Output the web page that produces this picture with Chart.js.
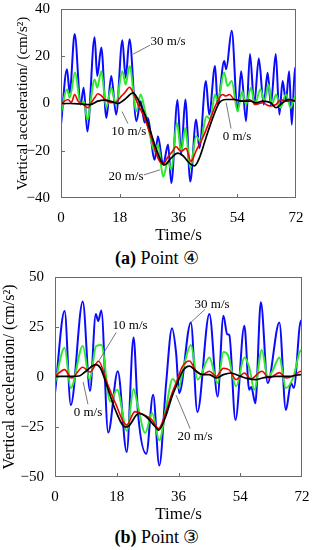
<!DOCTYPE html>
<html><head><meta charset="utf-8">
<script src="https://cdn.jsdelivr.net/npm/chart.js@4"></script>
<style>
html,body{margin:0;padding:0;background:#fff;}
body{width:314px;height:550px;position:relative;overflow:hidden;font-family:"Liberation Serif","Times New Roman",serif;}
.wrap{position:absolute;left:0;width:314px;}
.cap{position:absolute;left:0;width:314px;text-align:center;font-size:18px;line-height:20px;color:#000;}
</style></head><body>
<div class="wrap" style="top:0;height:247px"><canvas id="ca" width="314" height="247"></canvas></div>
<div class="cap" style="top:248px"><b>(a)</b> Point ④</div>
<div class="wrap" style="top:268px;height:258px"><canvas id="cb" width="314" height="258"></canvas></div>
<div class="cap" style="top:527px"><b>(b)</b> Point ③</div>
<script>
// ---- Data: [time (s), vertical acceleration (cm/s²)] ----
const speedLabels = ['0 m/s','10 m/s','20 m/s','30 m/s'];
const xTicks = [0,18,36,54,72];
const yTicksA = [-40,-20,0,20,40];
const yTicksB = [-50,-25,0,25,50];

// Point ④
const blueA = [[0,-9],[1.84,14.5],[2.66,4.5],[4.19,29.4],[6.03,-0.4],[6.95,6.7],[8.06,-11.8],[10.3,28],[11.1,11.6],[12.35,23.7],[13.9,-6.1],[15.4,11.6],[16.9,-4.7],[18.8,26.8],[19.8,10.9],[21.0,27.2],[23.1,-7.5],[24.4,1],[25.6,-8],[26.5,-6],[28.7,-23.8],[29.7,-13.9],[31.3,-26],[32.8,-17.4],[33.8,-33.7],[35.7,1.5],[36.8,-21.7],[38.1,1.7],[39.6,-33],[41.4,-6.8],[42.4,-18.9],[44.4,9.5],[45.4,-4.7],[47.2,15.9],[48.0,-0.4],[50.0,18],[50.6,14.5],[52.3,30.8],[54.1,-3.3],[55.2,13.7],[56.7,-7.5],[57.9,21],[59.2,-0.4],[60.6,19],[62.1,-0.4],[63.3,13],[64.3,-0.4],[65.8,21],[66.9,-4.7],[67.9,9.5],[68.9,1],[69.9,13.7],[70.7,-9],[71.7,15.2],[72,10]];
const greenA = [[0,-4],[1.84,6],[2.66,2.4],[4.3,13.1],[6.03,-0.4],[7.0,1],[8.06,-6.8],[10.3,10.2],[11.1,6.7],[12.35,13.7],[13.9,-1.8],[15.4,6.7],[16.8,-0.4],[18.8,13.7],[19.8,8],[21.0,15.9],[23.1,-3.3],[24.4,3.8],[25.7,-3],[27.2,-13],[28.7,-20.3],[29.7,-17.4],[31.3,-31],[32.8,-24.5],[33.8,-28],[35.5,-8],[36.8,-20.3],[38.1,-10.4],[39.6,-27.4],[41.4,-13.9],[42.7,-16],[44.6,-5.4],[45.7,-6.5],[47.2,3.8],[48.0,1],[50.0,13.1],[51.0,7.4],[52.3,9.5],[54.1,-3.3],[55.5,5.2],[56.7,-0.4],[58.2,6.7],[59.4,-0.4],[61.1,6],[62.3,1],[63.6,8],[64.6,-0.4],[65.9,3.8],[67.2,-1.8],[68.9,3.8],[70.4,-1.8],[71.8,3],[72,2]];
const redA = [[0,0],[2.14,1.7],[3.17,0.5],[4.2,3.8],[5.2,1],[6.7,-0.4],[8.3,-1.8],[9.3,0.3],[10.3,2.4],[11.3,4.1],[12.35,3.3],[13.4,1.7],[15.4,0.3],[16.9,0.7],[18.5,3.1],[19.5,4.5],[21.0,6.9],[22.1,4.5],[23.6,-0.4],[25.6,-6.1],[27.7,-14.6],[29.7,-23.1],[31.3,-25.7],[32.8,-22.5],[34.3,-20],[35.2,-18.2],[36.8,-20.3],[38.3,-19],[39.8,-24.5],[41.4,-20],[43.4,-14.6],[45.5,-7.5],[47.5,-0.4],[49.5,3.8],[50.5,3.2],[51.6,3.8],[53.1,1.7],[55.7,1],[57.7,1.7],[59.7,-0.4],[61.8,0.3],[63.8,-1],[65.9,-0.4],[67.4,1.7],[68.9,1],[70.9,1],[72,1]];
const blackA = [[0,0],[3,0],[6,-0.2],[9,-0.5],[11.3,1],[13.4,1.4],[15.5,0.8],[17.5,0],[19.5,1.7],[22.1,4.5],[23.6,1.7],[26.1,-6.1],[28.7,-17.4],[30.7,-24.5],[31.7,-26],[33.8,-23],[35.8,-21],[37.3,-22],[39.3,-25.2],[40.9,-26.4],[42.4,-23],[44.4,-14.6],[46.5,-6.1],[48.5,0.3],[50.6,1.7],[53.1,1.7],[55.7,1],[58.2,1],[59.7,0.3],[61.8,1],[64.3,0.3],[65.9,-1.8],[67.9,0.3],[69.9,1.7],[72,1]];

// Point ③
const blueB = [[0,-8],[2.8,33],[4.6,-14],[8.1,37.7],[10.2,-7],[11.9,31.5],[12.6,28],[13.5,33.2],[15.5,-27.8],[18.3,2.9],[20.9,-37.5],[22.9,19.7],[24.2,-18.2],[26.6,-38.4],[28.6,-8.9],[30.4,-44.3],[32.4,-3],[34.1,24.4],[35.3,12],[36.2,-8.1],[39.6,27.3],[41.5,-17.5],[45.0,31.5],[47.4,-9.8],[49.1,30.6],[50.2,21.4],[50.8,21],[52.6,-21.5],[55.2,25.6],[56.6,-6.4],[57.2,-5],[58.4,-13.1],[60.0,37.4],[62.0,-3],[65.4,27.3],[67.3,-16.5],[68.8,-3],[69.6,-5.5],[71.7,28.3],[72,25]];
const greenB = [[0,-3],[2.8,14.6],[4.6,-5.5],[8.1,15.5],[10.1,-1.3],[12.0,15.5],[13.5,16],[16.1,-12.3],[18.1,-6.4],[21.0,-27],[22.9,-6],[24.2,-15],[26.3,-28],[28.3,-18],[30.4,-31.6],[32.4,-15],[34.3,-1],[35.3,-3],[36.0,-5.5],[37.5,5],[39.6,16],[41.6,-1.3],[45.0,9.8],[47.4,-3],[49.1,12.5],[50.4,11],[52.8,-4.7],[55.2,9.8],[56.6,5],[58.1,-6.4],[60.3,13.5],[62.0,0],[63.4,3],[65.4,9.8],[67.3,-5.5],[69.5,0],[71.7,13.5],[72,12]];
const redB = [[0,0.3],[2.8,3.7],[4.8,-0.5],[8.1,4.9],[10.2,2.5],[12.7,7.9],[15.2,-3],[17.6,-13.1],[20.9,-24],[23.3,-17.3],[25.3,-18.5],[28.3,-21.5],[30.2,-25.8],[32.2,-18.2],[34.1,-8.1],[35.3,-3],[37.2,5.4],[39.2,8],[41.1,2.9],[43.0,1.2],[45.0,2.9],[47.0,0.3],[49.1,4.4],[50.8,3.5],[52.8,-1.3],[55.2,2],[57.1,-1],[60.3,2.9],[62.4,-0.5],[65.4,2.2],[67.3,-0.5],[69.5,0.5],[71.7,2.9],[72,2.5]];
const blackB = [[0,0.3],[5.0,0.3],[7.0,0.5],[9.0,2.9],[11.9,6.2],[13.2,4.6],[15.2,-4.7],[17.6,-16.5],[20.5,-25],[21.5,-24.5],[24.4,-18.2],[26.3,-19.5],[29.3,-25],[30.2,-26.6],[32.2,-20],[34.1,-9.8],[35.3,-4.7],[37.2,2.9],[39.2,5.4],[41.1,3],[43.0,1.2],[45.0,1.2],[47.0,-0.5],[49.1,1.2],[51.3,2],[53.8,0.5],[56.2,-0.8],[58.6,-1.3],[60.5,-0.5],[64.2,0.3],[68.1,0.3],[71.7,1.2],[72,1.2]];

// ---- Annotation placement (data coordinates) ----
const notesA = [
  {text:'30 m/s', t:[32.8,26.4], l:[27.3,24.7,22.1,20.9]},
  {text:'10 m/s', t:[20.8,-11.9], l:[20.5,-8.5,18.7,-3.4]},
  {text:'20 m/s', t:[19.9,-31], l:[25.4,-30.2,30.3,-28.1]},
  {text:'0 m/s', t:[53.9,-14], l:[52.1,-10.6,50.6,0.4]}
];
const notesB = [
  {text:'10 m/s', t:[21.9,25.8], l:[17.8,22.2,12.8,8.1]},
  {text:'0 m/s', t:[9.6,-17.7], l:[9.6,-13.6,8.2,-2.5]},
  {text:'30 m/s', t:[45.8,36.4], l:[43.7,33.8,39.6,27.3]},
  {text:'20 m/s', t:[40.8,-29.8], l:[39.4,-25.8,35.3,-9.1]}
];

const FAM = '"Liberation Serif","Times New Roman",serif';
const toPts = a => a.map(p => ({x:p[0], y:p[1]}));

const framePlugin = {
  id:'frame',
  afterDraw(chart){
    const {ctx, chartArea:a, scales:{x,y}} = chart;
    ctx.save();
    ctx.strokeStyle = '#6a6a6a'; ctx.lineWidth = 1;
    ctx.strokeRect(Math.round(a.left)+0.5, Math.round(a.top)+0.5, Math.round(a.right-a.left)-1, Math.round(a.bottom-a.top)-1);
    ctx.beginPath();
    x.ticks.forEach(t => {
      if (t.value <= x.min || t.value >= x.max) return;
      const px = Math.round(x.getPixelForValue(t.value))+0.5;
      ctx.moveTo(px, a.bottom); ctx.lineTo(px, a.bottom-4);
    });
    y.ticks.forEach(t => {
      if (t.value <= y.min || t.value >= y.max) return;
      const py = Math.round(y.getPixelForValue(t.value))+0.5;
      ctx.moveTo(a.left, py); ctx.lineTo(a.left+4, py);
    });
    ctx.stroke();
    ctx.restore();
  }
};
const notePlugin = {
  id:'notes',
  afterDatasetsDraw(chart, args, opts){
    const {ctx, scales:{x,y}} = chart;
    ctx.save();
    ctx.strokeStyle = '#555'; ctx.lineWidth = 0.8;
    opts.items.forEach(it => {
      ctx.beginPath();
      ctx.moveTo(x.getPixelForValue(it.l[0]), y.getPixelForValue(it.l[1]));
      ctx.lineTo(x.getPixelForValue(it.l[2]), y.getPixelForValue(it.l[3]));
      ctx.stroke();
    });
    ctx.font = '13px ' + FAM; ctx.fillStyle = '#000';
    ctx.textAlign = 'center'; ctx.textBaseline = 'middle';
    opts.items.forEach(it => ctx.fillText(it.text, x.getPixelForValue(it.t[0]), y.getPixelForValue(it.t[1])));
    ctx.restore();
  }
};

function makeChart(id, s, cfg){
  new Chart(document.getElementById(id), {
    type:'line',
    data:{datasets:[
      {label:speedLabels[0], data:toPts(s.black), borderColor:'#000000', borderWidth:1.7, order:0},
      {label:speedLabels[1], data:toPts(s.red), borderColor:'#ee0000', borderWidth:1.6, order:1},
      {label:speedLabels[2], data:toPts(s.green), borderColor:'#2ee82e', borderWidth:2, order:2},
      {label:speedLabels[3], data:toPts(s.blue), borderColor:'#0a0aff', borderWidth:2, order:3}
    ]},
    options:{
      responsive:false, animation:false, events:[],
      layout:{padding:{left:0, right:cfg.padR, top:cfg.padT, bottom:0}},
      elements:{point:{radius:0}, line:{cubicInterpolationMode:'monotone', fill:false}},
      plugins:{legend:{display:false}, tooltip:{enabled:false}, notes:{items:cfg.notes}},
      scales:{
        x:{type:'linear', min:0, max:72,
          afterBuildTicks: sc => { sc.ticks = xTicks.map(v => ({value:v})); },
          ticks:{font:{family:FAM, size:15}, color:'#000', padding:3, maxRotation:0, autoSkip:false},
          grid:{display:false}, border:{display:false},
          title:{display:true, text:'Time/s', color:'#000', font:{family:FAM, size:17}, padding:{top:0, bottom:1}},
          afterFit: sc => { sc.height = 49; }
        },
        y:{type:'linear', min:cfg.yTicks[0], max:cfg.yTicks[cfg.yTicks.length-1],
          afterBuildTicks: sc => { sc.ticks = cfg.yTicks.map(v => ({value:v})); },
          ticks:{font:{family:FAM, size:15, lineHeight:0.8}, color:'#000', padding:3,
            callback: v => String(v).replace('-', '\u2212')},
          grid:{display:false}, border:{display:false},
          title:{display:true, text:'Vertical acceleration/ (cm/s\u00B2)', color:'#000', font:{family:FAM, size:cfg.ytSize}, padding:{top:cfg.ytPad, bottom:0}},
          afterFit: sc => { sc.width = cfg.yw; }
        }
      }
    },
    plugins:[framePlugin, notePlugin]
  });
}

makeChart('ca', {blue:blueA, green:greenA, red:redA, black:blackA},
  {padR:18, padT:9, yw:61, yTicks:yTicksA, ytSize:15, ytPad:14, notes:notesA});
makeChart('cb', {blue:blueB, green:greenB, red:redB, black:blackB},
  {padR:12, padT:9, yw:55, yTicks:yTicksB, ytSize:16, ytPad:0, notes:notesB});
</script>
</body></html>
